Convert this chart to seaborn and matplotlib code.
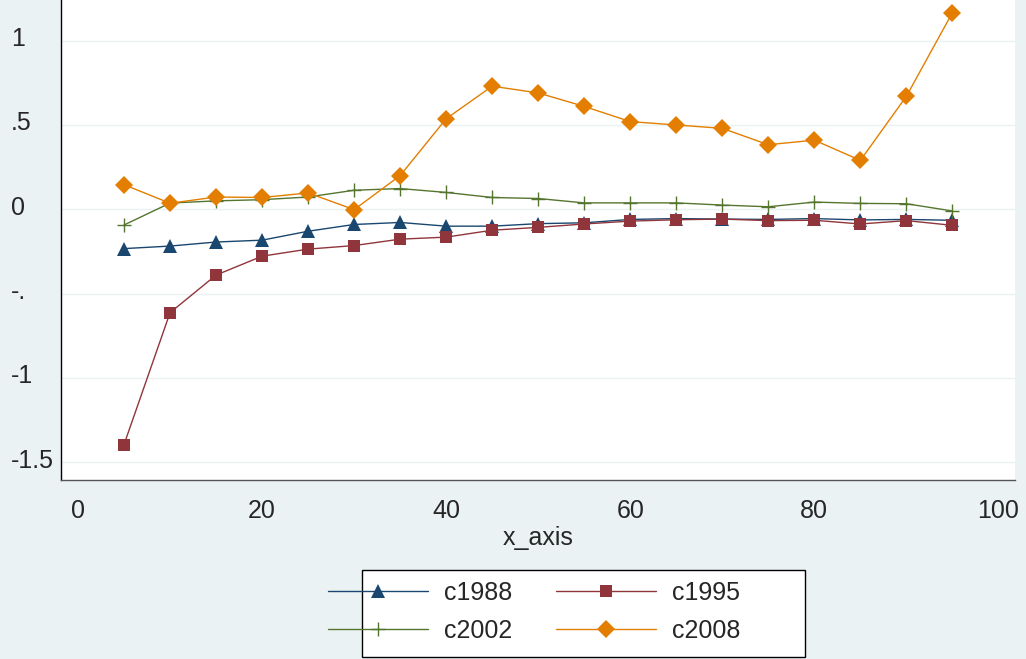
import numpy as np
import pandas as pd
import matplotlib
matplotlib.use("Agg")
import matplotlib.pyplot as plt
import matplotlib.transforms as mtransforms
from matplotlib.patches import Rectangle
import seaborn as sns

# values
x_axis = [5, 10, 15, 20, 25, 30, 35, 40, 45, 50, 55, 60, 65, 70, 75, 80, 85, 90, 95]
c1988 = [-0.233, -0.218, -0.194, -0.183, -0.130, -0.090, -0.078, -0.100, -0.100, -0.085,
         -0.080, -0.060, -0.055, -0.058, -0.060, -0.055, -0.063, -0.060, -0.065]
c1995 = [-1.395, -0.613, -0.390, -0.278, -0.236, -0.215, -0.177, -0.165, -0.124, -0.107,
         -0.087, -0.070, -0.062, -0.058, -0.067, -0.065, -0.087, -0.067, -0.095]
c2002 = [-0.093, 0.037, 0.050, 0.057, 0.073, 0.113, 0.123, 0.100, 0.070, 0.064,
         0.038, 0.038, 0.038, 0.025, 0.015, 0.043, 0.035, 0.033, -0.010]
c2008 = [0.146, 0.036, 0.073, 0.070, 0.097, -0.002, 0.200, 0.537, 0.730, 0.690,
         0.610, 0.520, 0.500, 0.480, 0.383, 0.410, 0.290, 0.670, 1.166]

y_ticks = [1, 0.5, 0, -0.5, -1, -1.5]
y_tick_labels = ["1", ".5", "0", "-.", "-1", "-1.5"]
x_ticks = [0, 20, 40, 60, 80, 100]

BG = "#EAF2F3"
FS = 18

sns.set_style("white")
plt.rcParams["font.family"] = ["Liberation Sans", "DejaVu Sans"]

fig = plt.figure(figsize=(10.26, 6.59), dpi=100)
fig.patch.set_facecolor(BG)
ax = fig.add_axes([61 / 1026, 1 - 480 / 659, (1015 - 61) / 1026, 480 / 659])
ax.set_facecolor("white")

series = [
    ("c1988", c1988, "#1A476F", "^", 10.5, 0),
    ("c1995", c1995, "#90353B", "s", 8.5, 0),
    ("c2002", c2002, "#55752F", "+", 10, 1),
    ("c2008", c2008, "#E37E00", "D", 9.5, 0),
]
for name, vals, col, mk, ms, mew in series:
    df = pd.DataFrame({"x_axis": x_axis, "y": vals})
    sns.lineplot(data=df, x="x_axis", y="y", ax=ax, color=col, lw=1,
                 marker=mk, markersize=ms, markeredgewidth=mew,
                 markeredgecolor=col, label=name, legend=False)

ax.set_xlim(-1.847, 101.8)
ax.set_ylim(-1.605, 1.241)
ax.set_yticks(y_ticks)
ax.set_yticklabels(y_tick_labels)
ax.set_xticks(x_ticks)
ax.set_xlabel("x_axis", fontsize=FS, labelpad=2)
ax.set_ylabel("")
ax.tick_params(axis="both", labelsize=FS, length=7, width=1, color="#555555",
               direction="out")
ax.tick_params(axis="x", pad=7)
# Stata puts the y labels flush left, sitting a little above the tick
ax.tick_params(axis="y", pad=29)
lift = mtransforms.ScaledTranslation(0, 4 / 100, fig.dpi_scale_trans)
for lab in ax.get_yticklabels():
    lab.set_horizontalalignment("left")
    lab.set_transform(lab.get_transform() + lift)
ax.yaxis.grid(True, color=BG, lw=1)
ax.set_axisbelow(True)
for s in ["top", "right"]:
    ax.spines[s].set_visible(False)
ax.spines["left"].set_color("black")
ax.spines["bottom"].set_color("#555555")
for s in ["left", "bottom"]:
    ax.spines[s].set_linewidth(1)

# legend box (Stata draws the keys poking out of the frame)
fig.patches.append(Rectangle((362 / 1026, 1 - 657 / 659), 443 / 1026, 87 / 659,
                             transform=fig.transFigure, facecolor="white",
                             edgecolor="black", lw=1, zorder=0))
handles, labels = ax.get_legend_handles_labels()
order = [0, 2, 1, 3]  # column-first fill -> row-wise order
fig.legend([handles[i] for i in order], [labels[i] for i in order], ncol=2,
           loc="upper left", bbox_to_anchor=(328 / 1026, 1 - 581 / 659),
           frameon=False, fontsize=FS, handlelength=4.0, handletextpad=0.64,
           columnspacing=1.75, labelspacing=0.55, borderpad=0, borderaxespad=0)

plt.savefig("out.png", dpi=100, facecolor=BG)
